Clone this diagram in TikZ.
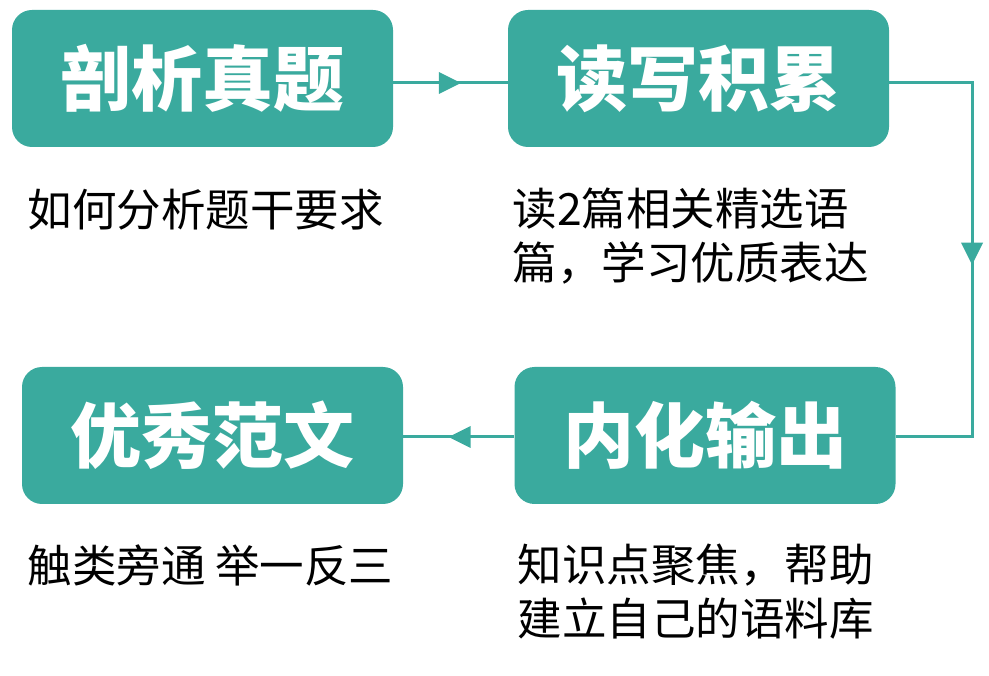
\documentclass[tikz,border=0pt]{standalone}
\usepackage{fontspec}
\newfontfamily\cjk{Noto Sans CJK SC}
\usetikzlibrary{positioning,decorations.markings}
\definecolor{teal1}{HTML}{3AAA9E}
\begin{document}
\begin{tikzpicture}[
    x=1pt, y=-1pt,
    stage/.style={rectangle, rounded corners=20pt, fill=teal1, minimum width=381pt, minimum height=137pt, text=white, font=\cjk\bfseries\fontsize{71}{72}\selectfont},
    note/.style={anchor=west, align=left, font=\cjk\fontsize{44.5}{54}\selectfont},
    flow/.style={teal1, line width=3pt, postaction={decorate}},
    mid/.style={decoration={markings, mark=at position #1 with {\fill[teal1] (8pt,0) -- (-14pt,11pt) -- (-14pt,-11pt) -- cycle;}}}
]
    \useasboundingbox (0,0) rectangle (989,676);

    % Boxes
    \node[stage] (analyse) at (202.5,78.5) {剖析真题};
    \node[stage] (read) at (698.5,78.5) {读写积累};
    \node[stage] (output) at (705,435.5) {内化输出};
    \node[stage] (model) at (212.5,435.5) {优秀范文};

    % Notes
    \node[note] (n1) at (24,210) {如何分析题干要求};
    \node[note] (n2) at (509,236) {读2篇相关精选语\\篇，学习优质表达};
    \node[note] (n3) at (24,565) {触类旁通 举一反三};
    \node[note] (n4) at (514,592) {知识点聚焦，帮助\\建立自己的语料库};

    % Connectors
    \coordinate (c1) at (972,83);
    \coordinate (c2) at (972,437);
    \draw[flow, mid=0.52] (analyse.east |- 0,83) -- (read.west |- 0,83);
    \draw[flow, mid=0.5] (read.east |- 0,83) -- (c1) -- (c2) -- (output.east |- 0,437);
    \draw[flow, mid=0.52] (output.west |- 0,437) -- (model.east |- 0,437);
\end{tikzpicture}
\end{document}
